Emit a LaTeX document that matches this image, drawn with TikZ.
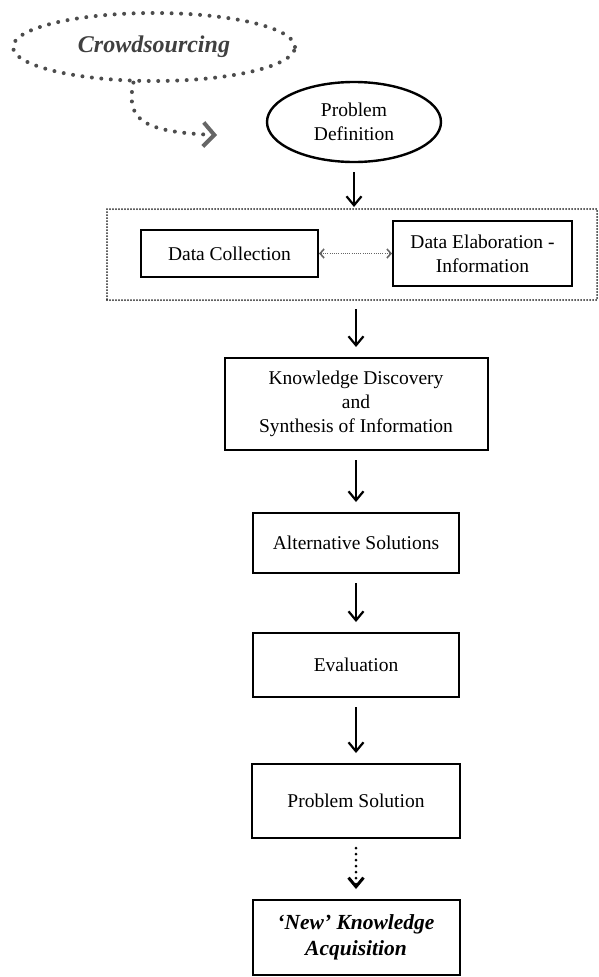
\documentclass[tikz,border=0pt]{standalone}
\usepackage{fontspec}
\setmainfont{Liberation Serif}
\usetikzlibrary{arrows.meta,positioning,shapes.geometric,calc}

\begin{document}
\begin{tikzpicture}[x=1pt, y=-1pt, font=\fontsize{19.5}{24}\selectfont, every node/.style={align=center},
  stepbox/.style={draw, line width=2pt, inner sep=2pt},
  oval/.style={draw, ellipse, line width=2.4pt, inner sep=0pt},
  cloud/.style={draw=black!70, ellipse, line width=4pt, dash pattern=on 0pt off 9.5pt, line cap=round, inner sep=0pt,
    font=\fontsize{24}{28}\selectfont\bfseries\itshape, text=black!75},
  groupbox/.style={draw=black!85, line width=2pt, dash pattern=on 0pt off 3pt, line cap=round},
  flow/.style={-{Straight Barb[length=9pt,width=15pt]}, line width=2.2pt, shorten <=9pt, shorten >=10pt},
  dotflow/.style={flow, dash pattern=on 0pt off 6pt, line cap=round, line width=3pt},
  pair/.style={{Straight Barb[length=4pt,width=9pt,line width=1.6pt]}-{Straight Barb[length=4pt,width=9pt,line width=1.6pt]}, draw=black!60, line width=1.8pt, dash pattern=on 1pt off 1.2pt},
  crowdline/.style={draw=black!70, line width=4pt, dash pattern=on 0pt off 9.5pt, line cap=round,
    -{Straight Barb[length=11pt,width=24pt,line width=4pt,color=black!60]}},
  result/.style={stepbox, font=\fontsize{21.5}{26}\selectfont\bfseries\itshape}]
\useasboundingbox (0,0) rectangle (598,977);

% nodes
\node[cloud, minimum width=282pt, minimum height=68pt] (crowd) at (154,47) {Crowdsourcing};
\node[oval, minimum width=174pt, minimum height=80pt] (pdef) at (354,122) {Problem\\Definition};
\node[groupbox, minimum width=490pt, minimum height=91pt] (grp) at (352,254.5) {};
\node[stepbox, minimum width=177pt, minimum height=47pt] (dc) at (229.5,253.5) {Data Collection};
\node[stepbox, minimum width=179pt, minimum height=65pt] (de) at (482.5,253.5) {Data Elaboration -\\Information};
\node[stepbox, minimum width=263pt, minimum height=92pt] (kd) at (356,404) {Knowledge Discovery\\and\\Synthesis of Information};
\node[stepbox, minimum width=206pt, minimum height=60pt] (alt) at (356,543) {Alternative Solutions};
\node[stepbox, minimum width=206pt, minimum height=64pt] (eval) at (356,665) {Evaluation};
\node[stepbox, minimum width=208pt, minimum height=74pt] (psol) at (356,801) {Problem Solution};
\node[result, minimum width=207pt, minimum height=75pt] (newk) at (356,937.5) {‘New’ Knowledge\\Acquisition};
\coordinate (crowdend) at (217,135);

% connectors
\draw[crowdline] (crowd.240) .. controls (126,118) and (140,132) .. (crowdend);
\draw[flow, shorten >=1pt] (pdef.south) -- (pdef.south |- grp.north);
\draw[pair] (dc) -- (de);
\draw[flow, shorten <=8pt] (grp.south -| kd.north) -- (kd.north);
\draw[flow] (kd) -- (alt);
\draw[flow] (alt) -- (eval);
\draw[flow] (eval) -- (psol);
\draw[dotflow] (psol) -- (newk);
\end{tikzpicture}
\end{document}
